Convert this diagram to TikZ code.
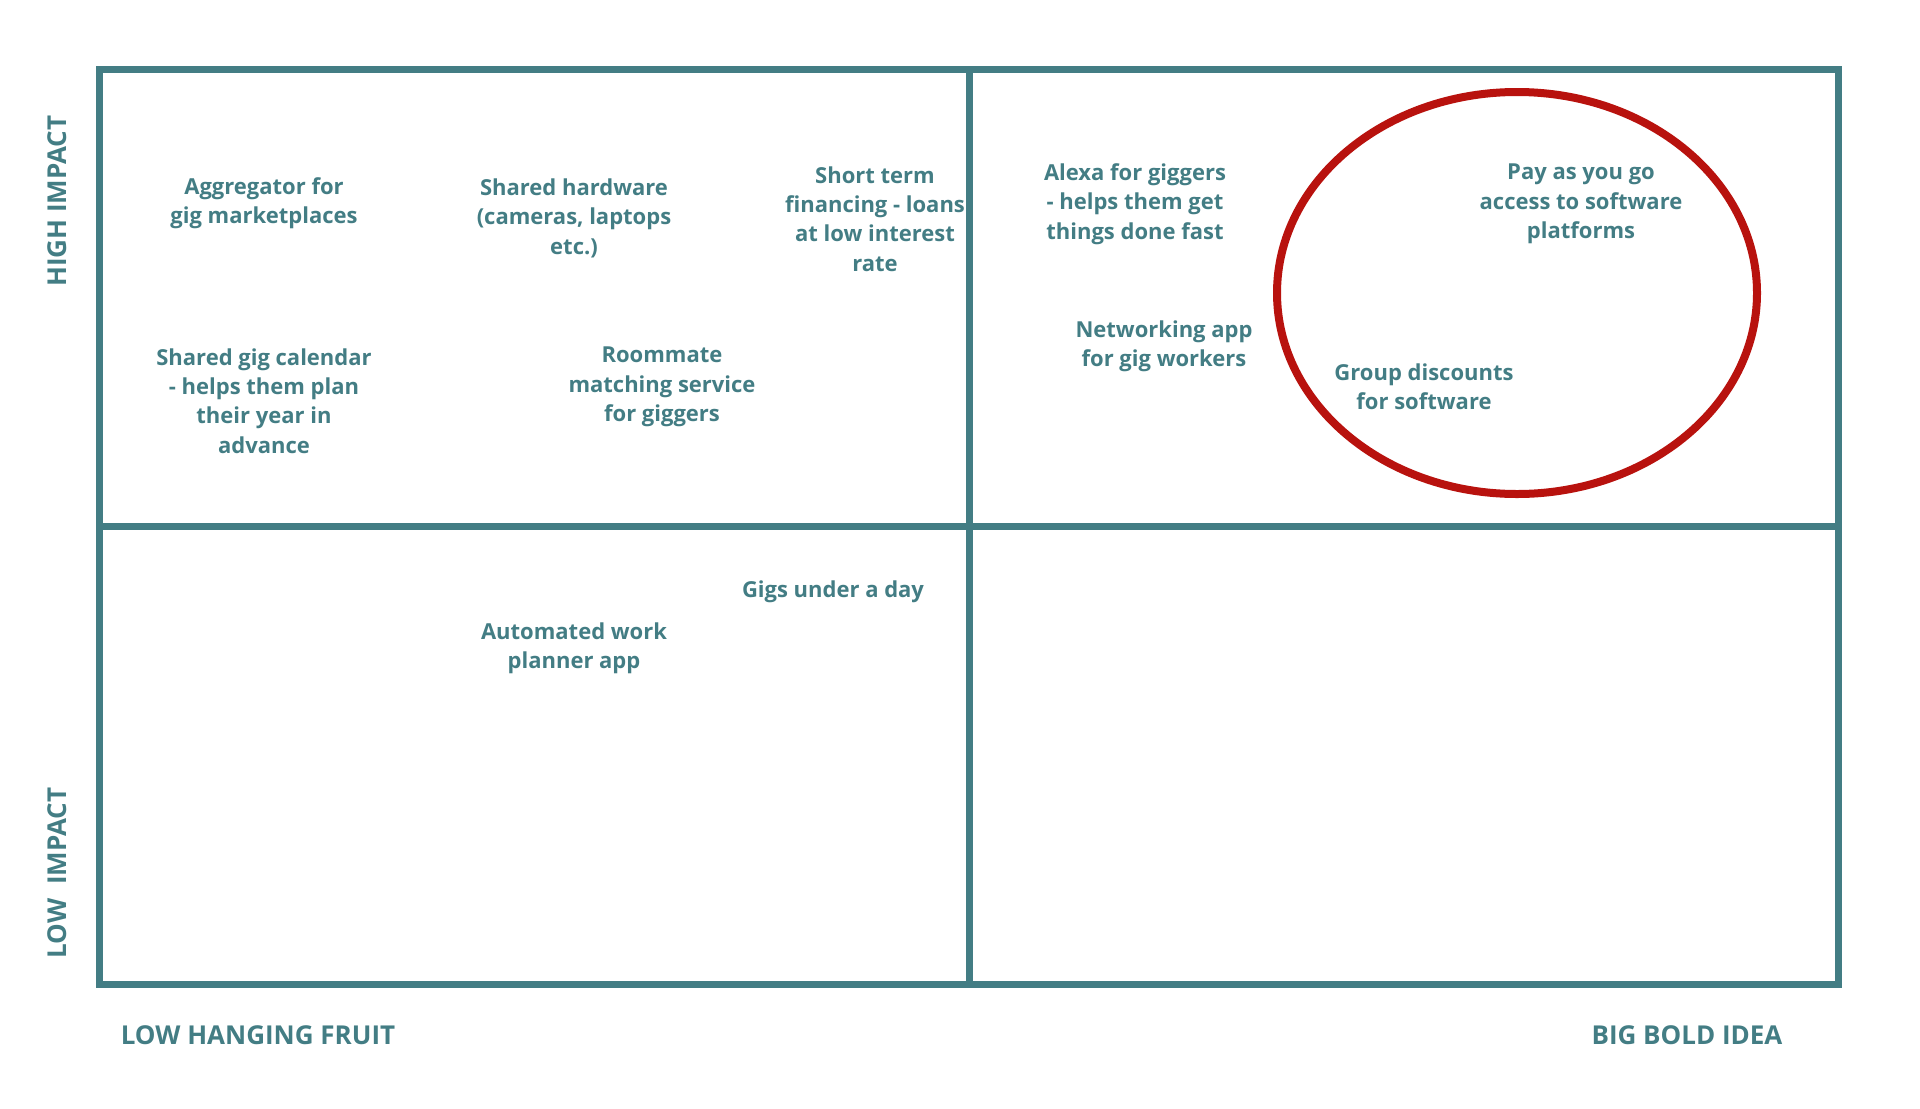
\documentclass[tikz,border=0pt]{standalone}
\usepackage{fontspec}
\setmainfont{Open Sans}
\usepackage{tikz}
\usetikzlibrary{positioning}
\definecolor{gridteal}{RGB}{67,125,132}
\definecolor{ovalred}{RGB}{184,18,14}

\begin{document}
\begin{tikzpicture}[x=0.5pt,y=-0.5pt,
	idea/.style={text=gridteal,align=center,font=\fontsize{11}{14.7}\selectfont\bfseries},
	axislabel/.style={text=gridteal,font=\fontsize{13}{15}\selectfont\bfseries},
	quadline/.style={draw=gridteal,line width=3.5pt},
	oval/.style={draw=ovalred,line width=4pt}]
	\useasboundingbox (0,0) rectangle (1920,1108);
	% matrix frame
	\coordinate (tl) at (99,69);
	\coordinate (br) at (1838,984);
	\coordinate (mt) at (969,69);
	\coordinate (mb) at (969,984);
	\coordinate (ml) at (99,526);
	\coordinate (mr) at (1838,526);
	\draw[quadline] (tl) rectangle (br);
	\draw[quadline] (mt) -- (mb);
	\draw[quadline] (ml) -- (mr);
	\draw[oval] (1517,293) ellipse [x radius=240, y radius=201];
	% ideas
	\node[idea] (aggr) at (264,203) {Aggregator for\\gig marketplaces};
	\node[idea] (hard) at (574,218) {Shared hardware\\(cameras, laptops\\etc.)};
	\node[idea] (loan) at (875,219) {Short term\\financing - loans\\at low interest\\rate};
	\node[idea] (alexa) at (1135,204) {Alexa for giggers\\- helps them get\\things done fast};
	\node[idea] (payg) at (1581,204) {Pay as you go\\access to software\\platforms};
	\node[idea] (net) at (1164,346) {Networking app\\for gig workers};
	\node[idea] (disc) at (1424,387) {Group discounts\\for software};
	\node[idea] (cal) at (264,401) {Shared gig calendar\\- helps them plan\\their year in\\advance};
	\node[idea] (room) at (662,387) {Roommate\\matching service\\for giggers};
	\node[idea] (gigs) at (833,592) {Gigs under a day};
	\node[idea] (plan) at (574,648) {Automated work\\planner app};
	% axes
	\node[axislabel] (low) at (258,1035) {LOW HANGING FRUIT};
	\node[axislabel] (big) at (1687,1035) {BIG BOLD IDEA};
	\node[axislabel,rotate=90] (high) at (57,201) {HIGH IMPACT};
	\node[axislabel,rotate=90] (lowimp) at (57,873) {LOW\ \ IMPACT};
\end{tikzpicture}
\end{document}
